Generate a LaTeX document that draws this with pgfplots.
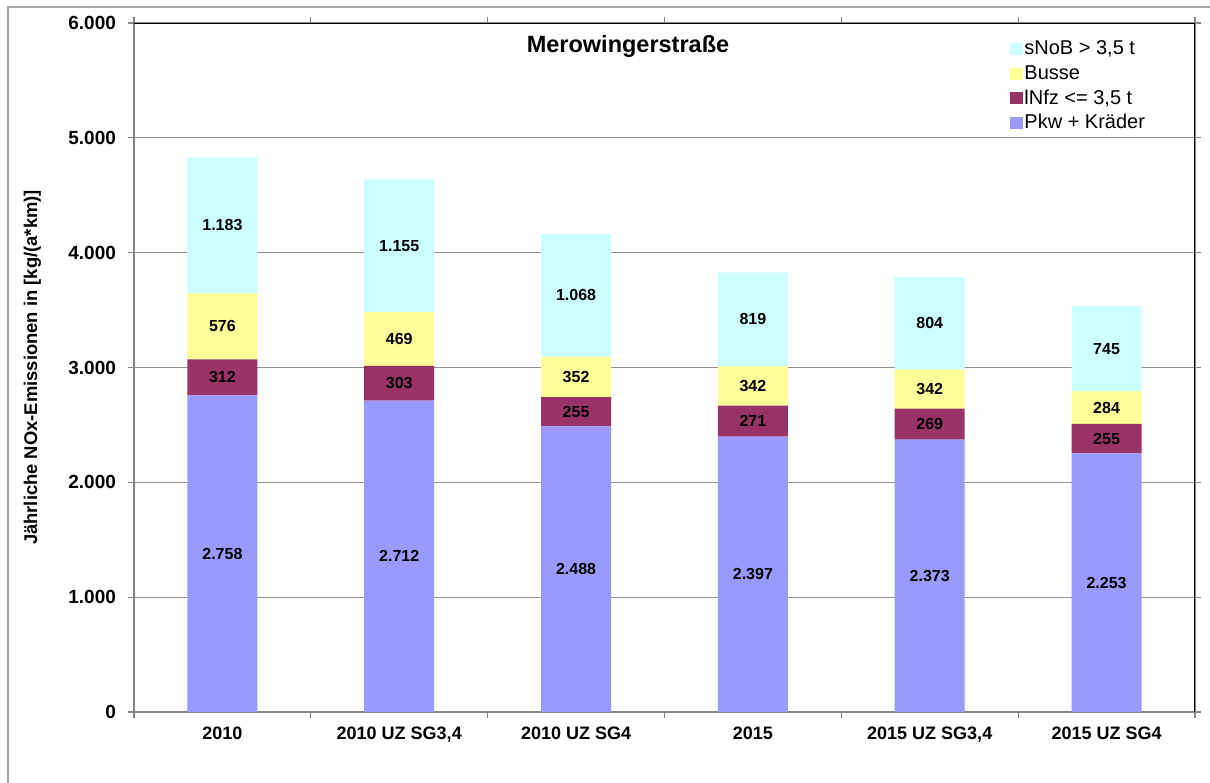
\documentclass[border=0pt]{standalone}
\usepackage{pgfplots}
\pgfplotsset{compat=1.18}
\usepackage{fontspec}
\setmainfont{Liberation Sans}
\definecolor{cPkw}{HTML}{9999FF}
\definecolor{cLnf}{HTML}{993366}
\definecolor{cBus}{HTML}{FFFF99}
\definecolor{cSno}{HTML}{CCFFFF}
\definecolor{axgray}{HTML}{868686}
\definecolor{frgray}{HTML}{A6A6A6}
\begin{document}
\begin{tikzpicture}
\useasboundingbox (0,0) rectangle (605pt,391pt);
\draw[frgray, line width=0.6pt] (4pt,-10pt) -- (4pt,387.5pt) -- (620pt,387.5pt);
\begin{axis}[
  at={(67pt,35pt)}, anchor=south west,
  width=530.5pt, height=344.5pt, scale only axis,
  ybar stacked, bar width=35pt,
  xmin=-0.5, xmax=5.5, ymin=0, ymax=6000,
  xtick={-0.5,0.5,...,5.5}, xticklabels={},
  extra x ticks={0,1,2,3,4,5},
  extra x tick labels={2010,{2010 UZ SG3,4},{2010 UZ SG4},2015,{2015 UZ SG3,4},{2015 UZ SG4}},
  extra x tick style={major tick length=0pt},
  ytick={0,1000,...,6000},
  scaled y ticks=false,
  /pgf/number format/.cd, use comma, 1000 sep={.}, assume math mode=true,
  /pgfplots/.cd,
  tick align=outside, major tick length=3pt,
  tick style={axgray, line width=0.6pt},
  axis line style={axgray, line width=0.8pt},
  ymajorgrids, grid style={axgray!90, line width=0.5pt},
  xticklabel style={font=\bfseries\fontsize{9}{10}\selectfont, yshift=-4pt},
  yticklabel style={font=\bfseries\fontsize{9.5}{10}\selectfont, xshift=-2.5pt},
  ylabel={Jährliche NOx-Emissionen in [kg/(a*km)]},
  ylabel style={font=\bfseries\fontsize{9.2}{10}\selectfont, at={(axis description cs:-0.0914,0.5)}, anchor=base, inner sep=0pt},
  visualization depends on={rawy \as \rawy},
  nodes near coords={\pgfmathprintnumber{\rawy}},
  every node near coord/.append style={font=\bfseries\fontsize{8}{9}\selectfont, anchor=center},
  reverse legend,
  legend cell align=left,
  legend image code/.code={\fill[#1, draw=none] (0pt,-3pt) rectangle (6.5pt,3pt);},
  legend style={at={(rel axis cs:0.8252,0.9808)}, anchor=north west, draw=none, fill=none,
    inner sep=0pt, font=\fontsize{10}{11}\selectfont,
    nodes={inner xsep=0.75pt, inner ysep=0pt, minimum height=12.35pt}},
]
\addplot[fill=cPkw, draw=none] coordinates {(0,2758) (1,2712) (2,2488) (3,2397) (4,2373) (5,2253)};
\addlegendentry{Pkw + Kräder}
\addplot[fill=cLnf, draw=none] coordinates {(0,312) (1,303) (2,255) (3,271) (4,269) (5,255)};
\addlegendentry{lNfz <= 3,5 t}
\addplot[fill=cBus, draw=none] coordinates {(0,576) (1,469) (2,352) (3,342) (4,342) (5,284)};
\addlegendentry{Busse}
\addplot[fill=cSno, draw=none] coordinates {(0,1183) (1,1155) (2,1068) (3,819) (4,804) (5,745)};
\addlegendentry{sNoB > 3,5 t}
\draw[black, line width=0.6pt] (rel axis cs:0,1) -- (rel axis cs:1,1) -- (rel axis cs:1,0);
\node[anchor=base, font=\bfseries\fontsize{11.75}{12}\selectfont] at (rel axis cs:0.4656,0.9565) {Merowingerstraße};
\end{axis}
\end{tikzpicture}
\end{document}
